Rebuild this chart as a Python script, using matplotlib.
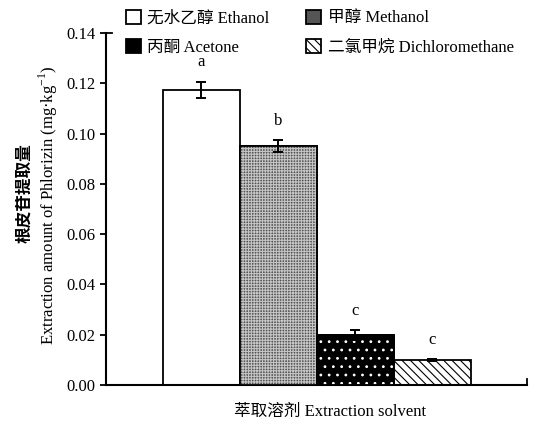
import matplotlib
matplotlib.use('Agg')
import matplotlib.pyplot as plt
import numpy as np

plt.rcParams['font.family'] = ['Liberation Serif', 'Noto Sans CJK SC']
plt.rcParams['mathtext.fontset'] = 'custom'
plt.rcParams['mathtext.rm'] = 'Liberation Serif'
plt.rcParams['hatch.linewidth'] = 0.8

# extraction amount of phlorizin by solvent
solvents = ['无水乙醇 Ethanol', '甲醇 Methanol', '丙酮 Acetone', '二氯甲烷 Dichloromethane']
amount = [0.1175, 0.0950, 0.0198, 0.0099]
sd = [0.0032, 0.0025, 0.0020, 0.0005]
letters = ['a', 'b', 'c', 'c']

faces = ['white', '#555555', 'black', 'white']
hatches = [None, None, None, '\\\\\\\\']
# fine texture laid over the filled bars: (hatch, colour)
overlays = [None, ('++++++', '#c4c4c4'), ('..', 'white'), None]

fig = plt.figure(figsize=(5.44, 4.30), dpi=100)
ax = fig.add_axes([106/544, 1-385/430, 421/544, 352/430])

x = np.arange(len(amount)) + 1.24
bars = []
for i in range(len(amount)):
    b = ax.bar(x[i], amount[i], width=1.0, color=faces[i], edgecolor='black',
               hatch=hatches[i], linewidth=1.3, label=solvents[i], zorder=2)
    bars.append(b)
    if overlays[i]:
        h, c = overlays[i]
        ax.bar(x[i], amount[i], width=1.0, fill=False, edgecolor=c, hatch=h,
               linewidth=0, zorder=3)
        ax.bar(x[i], amount[i], width=1.0, fill=False, edgecolor='black',
               linewidth=1.3, zorder=4)

ax.errorbar(x, amount, yerr=sd, fmt='none', ecolor='black', elinewidth=1.4,
            capsize=3.5, capthick=1.4, zorder=5)
for xi, v, e, t in zip(x, amount, sd, letters):
    ax.text(xi, v + e + 0.0045, t, ha='center', va='bottom', fontsize=12)

ax.set_xlim(0, 421/77)
ax.set_ylim(0, 0.14)
ax.set_yticks(np.arange(0, 0.141, 0.02))
ax.set_yticklabels(['%.2f' % v for v in np.arange(0, 0.141, 0.02)], fontsize=12)
ax.set_xticks([])
ax.tick_params(axis='y', direction='out', length=4, width=1.3)
for s in ['top', 'right']:
    ax.spines[s].set_visible(False)
for s in ['left', 'bottom']:
    ax.spines[s].set_linewidth(1.5)
# small end marks on the axes
ax.plot([0, 0.08], [0.14, 0.14], color='black', lw=1.3, clip_on=False)
ax.plot([421/77, 421/77], [0, 0.0025], color='black', lw=1.3, clip_on=False)

fig.text(24/544, 1-193/430, '根皮苷提取量', rotation=90, ha='center', va='center',
         fontsize=12, fontweight='bold', family=['Noto Sans CJK SC'])
fig.text(48/544, 1-205/430, 'Extraction amount of Phlorizin (mg·kg$^{\\mathregular{-1}}$)',
         rotation=90, ha='center', va='center', fontsize=12)
fig.text(330/544, 1-412/430, '萃取溶剂 Extraction solvent', ha='center',
         va='center', fontsize=12)

# legend fills column by column, so order gives rows Ethanol/Methanol, Acetone/DCM
order = [0, 2, 1, 3]
fig.legend(handles=[bars[i].patches[0] for i in order],
           labels=[solvents[i] for i in order], ncol=2,
           loc='upper left', bbox_to_anchor=(119/544, 1-3/430), frameon=False,
           fontsize=12, handlelength=0.9, handleheight=0.9, handletextpad=0.4,
           columnspacing=2.2, labelspacing=0.75, borderaxespad=0)

fig.savefig('out.png', dpi=100)
